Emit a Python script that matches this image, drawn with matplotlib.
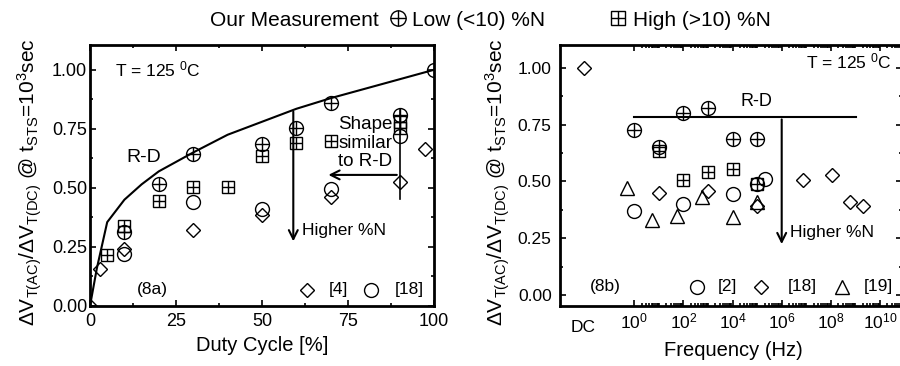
import numpy as np
import matplotlib
matplotlib.use('Agg')
import matplotlib.pyplot as plt
from matplotlib.lines import Line2D
from matplotlib.ticker import MultipleLocator, FixedLocator, NullFormatter

plt.rcParams['font.family'] = ['Liberation Sans', 'DejaVu Sans']
plt.rcParams['mathtext.fontset'] = 'custom'
plt.rcParams['mathtext.rm'] = 'Liberation Sans'
plt.rcParams['mathtext.it'] = 'Liberation Sans'
plt.rcParams['mathtext.bf'] = 'Liberation Sans'

# ---- (8a) duty cycle data ----
rd_duty = [0, 2, 5, 10, 15, 20, 25, 30, 40, 50, 60, 70, 80, 90, 100]
rd_ratio = [0, 0.16, 0.355, 0.45, 0.515, 0.57, 0.61, 0.65, 0.725, 0.78, 0.835, 0.88, 0.92, 0.96, 1.0]

low_duty = [10, 20, 30, 50, 60, 70, 90]
low_ratio = [0.315, 0.515, 0.645, 0.685, 0.755, 0.86, 0.81]
high_duty = [5, 10, 20, 30, 40, 50, 60, 70, 90, 90]
high_ratio = [0.215, 0.34, 0.445, 0.505, 0.505, 0.635, 0.69, 0.70, 0.78, 0.755]
ref4_duty = [0, 3, 10, 30, 50, 70, 90, 97.5]
ref4_ratio = [0, 0.155, 0.24, 0.32, 0.385, 0.46, 0.525, 0.665]
ref18_duty = [10, 30, 50, 70, 90, 100]
ref18_ratio = [0.22, 0.44, 0.41, 0.495, 0.72, 1.0]

# ---- (8b) frequency data (DC plotted at its own slot) ----
dc_pos = 10 ** -2.05
low_freq = [1, 10, 100, 1e3, 1e4, 1e5]
low_fratio = [0.725, 0.65, 0.80, 0.825, 0.685, 0.685]
high_freq = [10, 100, 1e3, 1e4, 1e5]
high_fratio = [0.635, 0.505, 0.54, 0.555, 0.49]
ref2_freq = [1, 100, 1e4, 1e5, 2.1e5]
ref2_fratio = [0.37, 0.40, 0.445, 0.49, 0.51]
ref18_freq = [dc_pos, 10, 1e3, 1e5, 7.6e6, 1.1e8, 5.8e8, 2.1e9]
ref18_fratio = [1.0, 0.45, 0.46, 0.39, 0.505, 0.53, 0.41, 0.39]
ref19_freq = [0.5, 5, 53, 550, 1.07e4, 1e5]
ref19_fratio = [0.47, 0.33, 0.35, 0.43, 0.345, 0.41]
rd_freq = [1, 1.1e9]
rd_fratio = [0.785, 0.785]
freq_ticks = [1, 1e2, 1e4, 1e6, 1e8, 1e10]
freq_labels = ['$10^{0}$', '$10^{2}$', '$10^{4}$', '$10^{6}$', '$10^{8}$', '$10^{10}$']

ylab = r'$\Delta$V$_{\mathrm{T(AC)}}$/$\Delta$V$_{\mathrm{T(DC)}}$ @ t$_{\mathrm{STS}}$=10$^{3}$sec'

mk = dict(mfc='none', mec='black', color='black', ls='none', mew=1.0)


def circ_plus(ax, x, y, ms=10):
    ax.plot(x, y, marker='o', ms=ms, **mk)
    ax.plot(x, y, marker='+', ms=ms, **mk)


def sq_plus(ax, x, y, ms=8):
    ax.plot(x, y, marker='s', ms=ms, **mk)
    ax.plot(x, y, marker='+', ms=ms, **mk)


def style_axes(ax):
    for s in ax.spines.values():
        s.set_linewidth(2.0)
    ax.tick_params(which='both', direction='in', top=True, right=True, width=1.2)
    ax.tick_params(which='major', length=4)
    ax.tick_params(which='minor', length=2.5)


fig = plt.figure(figsize=(9, 3.66), dpi=100)

# ---------------- left panel ----------------
ax1 = fig.add_axes([90 / 900, 60 / 366, 344 / 900, 261 / 366])
ax1.plot(rd_duty, rd_ratio, color='black', lw=1.5)
circ_plus(ax1, low_duty, low_ratio)
sq_plus(ax1, high_duty, high_ratio)
ax1.plot(ref4_duty, ref4_ratio, marker='D', ms=7.5, **mk)
ax1.plot(ref18_duty, ref18_ratio, marker='o', ms=10, **mk)
ax1.set_xlim(0, 100)
ax1.set_ylim(0, 1.105)
ax1.xaxis.set_major_locator(MultipleLocator(25))
ax1.xaxis.set_minor_locator(MultipleLocator(12.5))
ax1.yaxis.set_major_locator(MultipleLocator(0.25))
ax1.yaxis.set_minor_locator(MultipleLocator(0.125))
ax1.yaxis.set_major_formatter(matplotlib.ticker.FormatStrFormatter('%.2f'))
style_axes(ax1)
ax1.tick_params(axis='y', labelsize=13, pad=2)
ax1.tick_params(axis='x', labelsize=13, pad=5)
ax1.set_xlabel('Duty Cycle [%]', fontsize=14.5)
ax1.xaxis.set_label_coords(0.501, -0.115)
ax1.set_ylabel(ylab, fontsize=15)
ax1.yaxis.set_label_coords(-0.135, 0.476)

ax1.text(7.3, 1.0, 'T = 125 $^{0}$C', fontsize=12.5, va='center')
ax1.text(10.5, 0.63, 'R-D', fontsize=14, va='center')
ax1.annotate('', xy=(59.1, 0.262), xytext=(59.1, 0.835),
             arrowprops=dict(arrowstyle='->', lw=1.5, mutation_scale=16))
ax1.text(61.7, 0.32, 'Higher %N', fontsize=12.5, va='center')
ax1.plot([90, 90], [0.453, 0.83], color='black', lw=1.2)
ax1.annotate('', xy=(68.5, 0.555), xytext=(90, 0.555),
             arrowprops=dict(arrowstyle='->', lw=1.5, mutation_scale=16))
ax1.text(80.0, 0.69, 'Shape\nsimilar\nto R-D', fontsize=13.5, ha='center', va='center',
         multialignment='center', linespacing=1.15)
ax1.text(13.7, 0.068, '(8a)', fontsize=12.5, va='center')
ax1.plot([63.2], [0.068], marker='D', ms=7.5, **mk)
ax1.text(69.3, 0.068, '[4]', fontsize=12.5, va='center')
ax1.plot([81.8], [0.068], marker='o', ms=10, **mk)
ax1.text(88.5, 0.068, '[18]', fontsize=12.5, va='center')

# ---------------- right panel ----------------
ax2 = fig.add_axes([560 / 900, 60 / 366, 342 / 900, 261 / 366])
ax2.set_xscale('log')
ax2.plot(rd_freq, rd_fratio, color='black', lw=1.5)
circ_plus(ax2, low_freq, low_fratio)
sq_plus(ax2, high_freq, high_fratio)
ax2.plot(ref2_freq, ref2_fratio, marker='o', ms=10, **mk)
ax2.plot(ref18_freq, ref18_fratio, marker='D', ms=7.5, **mk)
ax2.plot(ref19_freq, ref19_fratio, marker='^', ms=10, **mk)
ax2.set_xlim(10 ** -3.03, 10 ** 10.9)
ax2.set_ylim(-0.048, 1.1)
ax2.xaxis.set_major_locator(FixedLocator(freq_ticks))
ax2.set_xticklabels(freq_labels)
minor = [k * 10.0 ** n for n in range(0, 11) for k in range(1, 10)
         if k * 10.0 ** n < 10 ** 10.9 and k * 10.0 ** n not in freq_ticks]
ax2.xaxis.set_minor_locator(FixedLocator(minor))
ax2.xaxis.set_minor_formatter(NullFormatter())
ax2.yaxis.set_major_locator(MultipleLocator(0.25))
ax2.yaxis.set_minor_locator(MultipleLocator(0.125))
ax2.yaxis.set_major_formatter(matplotlib.ticker.FormatStrFormatter('%.2f'))
style_axes(ax2)
ax2.tick_params(axis='y', labelsize=12.5, pad=6)
ax2.tick_params(axis='x', labelsize=12.5, pad=4)
ax2.text(10 ** -2.1, -0.055, 'DC', fontsize=12.5, ha='center', va='top',
         transform=ax2.get_xaxis_transform())
ax2.set_xlabel('Frequency (Hz)', fontsize=14.5)
ax2.xaxis.set_label_coords(0.506, -0.135)
ax2.set_ylabel(ylab, fontsize=15)
ax2.yaxis.set_label_coords(-0.14, 0.476)

ax2.text(10 ** 10.48, 1.026, 'T = 125 $^{0}$C', fontsize=12.5, ha='right', va='center')
ax2.text(10 ** 4.96, 0.85, 'R-D', fontsize=13, ha='center', va='center')
ax2.annotate('', xy=(1e6, 0.212), xytext=(1e6, 0.785),
             arrowprops=dict(arrowstyle='->', lw=1.5, mutation_scale=16))
ax2.text(10 ** 6.35, 0.276, 'Higher %N', fontsize=12.5, va='center')
ax2.text(10 ** -1.8, 0.037, '(8b)', fontsize=12.5, va='center')
ax2.plot([10 ** 2.54], [0.037], marker='o', ms=10, **mk)
ax2.text(10 ** 3.41, 0.037, '[2]', fontsize=12.5, va='center')
ax2.plot([10 ** 5.16], [0.037], marker='D', ms=7.5, **mk)
ax2.plot([10 ** 8.45], [0.037], marker='^', ms=10, **mk)
ax2.text(10 ** 6.25, 0.037, '[18]', fontsize=12.5, va='center')
ax2.text(10 ** 9.33, 0.037, '[19]', fontsize=12.5, va='center')

# ---------------- top legend ----------------
fig.text(210 / 900, 1 - 20 / 366, 'Our Measurement', fontsize=15, va='center')
h_low = (Line2D([], [], marker='o', ms=11, **mk), Line2D([], [], marker='+', ms=11, **mk))
h_high = (Line2D([], [], marker='s', ms=10.5, **mk), Line2D([], [], marker='+', ms=10.5, **mk))
fig.legend([h_low, h_high], ['Low (<10) %N', 'High (>10) %N'], loc='center left',
           bbox_to_anchor=(389.5 / 900, 1 - 20 / 366), ncol=2, frameon=False, fontsize=15,
           borderpad=0, borderaxespad=0, handlelength=0.8, handletextpad=0.3,
           columnspacing=3.1)

fig.savefig('out.png', dpi=100)
plt.close('all')
